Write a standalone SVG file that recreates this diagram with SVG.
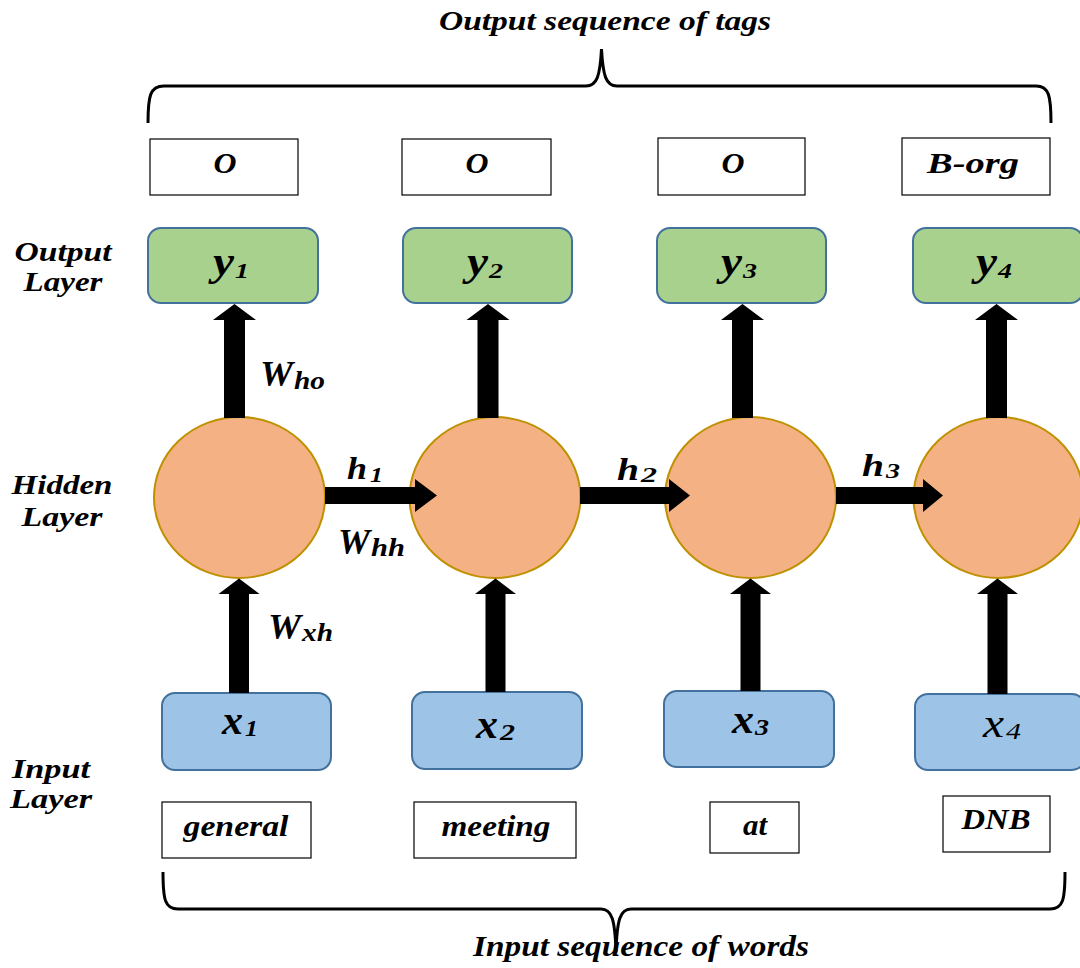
<svg xmlns="http://www.w3.org/2000/svg" width="1080" height="968" viewBox="0 0 1080 968">
  <style>
    .t { font-family: "Liberation Serif", "Times New Roman", serif; font-weight: bold; font-style: italic; fill: #000; }
    .tag { fill: #fff; stroke: #000; stroke-width: 1.2; }
    .out { fill: #A9D18E; stroke: #41719C; stroke-width: 2; }
    .inp { fill: #9DC3E6; stroke: #41719C; stroke-width: 2; }
    .cell { fill: #F4B183; stroke: #BF9000; stroke-width: 2; }
    .brace { fill: none; stroke: #000; stroke-width: 3; }
    .arr { fill: #000; }
  </style>

  <!-- titles and braces -->
  <g id="top-brace">
    <text class="t" x="605" y="30" font-size="27" text-anchor="middle" textLength="332" lengthAdjust="spacingAndGlyphs">Output sequence of tags</text>
    <path class="brace" d="M148,123 C148,96 150,86 164,86 L586,86 C597,86 600,76 601.5,49 C603,76 606,86 617,86 L1036,86 C1049,86 1051,96 1051,123"/>
  </g>
  <g id="bottom-brace">
    <path class="brace" d="M163,872 C163,900 165,909 178,909 L601,909 C612,909 615,920 616,952 C617,920 620,909 631,909 L1050,909 C1063,909 1065,900 1065,872"/>
    <text class="t" x="641" y="956" font-size="29" text-anchor="middle" textLength="336" lengthAdjust="spacingAndGlyphs">Input sequence of words</text>
  </g>

  <!-- layer labels -->
  <g id="label-output-layer">
    <text class="t" x="63" y="261" font-size="27" text-anchor="middle" textLength="97" lengthAdjust="spacingAndGlyphs">Output</text>
    <text class="t" x="63" y="291" font-size="27" text-anchor="middle" textLength="79" lengthAdjust="spacingAndGlyphs">Layer</text>
  </g>
  <g id="label-hidden-layer">
    <text class="t" x="62" y="494" font-size="27" text-anchor="middle" textLength="101" lengthAdjust="spacingAndGlyphs">Hidden</text>
    <text class="t" x="62" y="526" font-size="27" text-anchor="middle" textLength="81" lengthAdjust="spacingAndGlyphs">Layer</text>
  </g>
  <g id="label-input-layer">
    <text class="t" x="51" y="778" font-size="27" text-anchor="middle" textLength="78" lengthAdjust="spacingAndGlyphs">Input</text>
    <text class="t" x="51" y="808" font-size="27" text-anchor="middle" textLength="82" lengthAdjust="spacingAndGlyphs">Layer</text>
  </g>

  <!-- output tags -->
  <g id="tag-1">
    <rect class="tag" x="150" y="139" width="148" height="56"/>
    <text class="t" x="225" y="173" font-size="29" text-anchor="middle" textLength="23" lengthAdjust="spacingAndGlyphs">O</text>
  </g>
  <g id="tag-2">
    <rect class="tag" x="402" y="139" width="149" height="56"/>
    <text class="t" x="477" y="173" font-size="29" text-anchor="middle" textLength="23" lengthAdjust="spacingAndGlyphs">O</text>
  </g>
  <g id="tag-3">
    <rect class="tag" x="658" y="138" width="147" height="57"/>
    <text class="t" x="733" y="173" font-size="29" text-anchor="middle" textLength="23" lengthAdjust="spacingAndGlyphs">O</text>
  </g>
  <g id="tag-4">
    <rect class="tag" x="902" y="138" width="148" height="57"/>
    <text class="t" x="973" y="173" font-size="29" text-anchor="middle" textLength="92" lengthAdjust="spacingAndGlyphs">B-org</text>
  </g>

  <!-- output layer -->
  <g id="y1">
    <rect class="out" x="148" y="228" width="170" height="75" rx="13"/>
    <text class="t" x="213" y="275" font-size="42" textLength="21" lengthAdjust="spacingAndGlyphs">y</text>
    <text class="t" x="235" y="278" font-size="21" textLength="14" lengthAdjust="spacingAndGlyphs">1</text>
  </g>
  <g id="y2">
    <rect class="out" x="403" y="228" width="169" height="75" rx="13"/>
    <text class="t" x="467" y="275" font-size="42" textLength="21" lengthAdjust="spacingAndGlyphs">y</text>
    <text class="t" x="489" y="278" font-size="21" textLength="14" lengthAdjust="spacingAndGlyphs">2</text>
  </g>
  <g id="y3">
    <rect class="out" x="657" y="228" width="169" height="75" rx="13"/>
    <text class="t" x="721" y="275" font-size="42" textLength="21" lengthAdjust="spacingAndGlyphs">y</text>
    <text class="t" x="743" y="278" font-size="21" textLength="14" lengthAdjust="spacingAndGlyphs">3</text>
  </g>
  <g id="y4">
    <rect class="out" x="913" y="228" width="170" height="75" rx="13"/>
    <text class="t" x="976" y="275" font-size="42" textLength="21" lengthAdjust="spacingAndGlyphs">y</text>
    <text class="t" x="998" y="278" font-size="21" textLength="14" lengthAdjust="spacingAndGlyphs">4</text>
  </g>

  <!-- hidden layer -->
  <g id="h-cell-1"><ellipse class="cell" cx="239.5" cy="497.5" rx="85.5" ry="80.5"/></g>
  <g id="h-cell-2"><ellipse class="cell" cx="495" cy="497.5" rx="85.5" ry="80.5"/></g>
  <g id="h-cell-3"><ellipse class="cell" cx="750.5" cy="497.5" rx="85.5" ry="80.5"/></g>
  <g id="h-cell-4"><ellipse class="cell" cx="998.5" cy="497.5" rx="85" ry="80.5"/></g>

  <!-- input layer -->
  <g id="x1">
    <rect class="inp" x="162" y="693" width="169" height="77" rx="13"/>
    <text class="t" x="222" y="734" font-size="42" textLength="21" lengthAdjust="spacingAndGlyphs">x</text>
    <text class="t" x="245" y="736" font-size="23" textLength="13" lengthAdjust="spacingAndGlyphs">1</text>
  </g>
  <g id="x2">
    <rect class="inp" x="412" y="692" width="170" height="77" rx="13"/>
    <text class="t" x="476" y="738" font-size="42" textLength="22" lengthAdjust="spacingAndGlyphs">x</text>
    <text class="t" x="500" y="740" font-size="23" textLength="15" lengthAdjust="spacingAndGlyphs">2</text>
  </g>
  <g id="x3">
    <rect class="inp" x="664" y="691" width="170" height="76" rx="13"/>
    <text class="t" x="732" y="733" font-size="42" textLength="22" lengthAdjust="spacingAndGlyphs">x</text>
    <text class="t" x="755" y="735" font-size="23" textLength="14" lengthAdjust="spacingAndGlyphs">3</text>
  </g>
  <g id="x4">
    <rect class="inp" x="915" y="694" width="170" height="76" rx="13"/>
    <text x="983" y="737" font-family="Liberation Serif, serif" font-style="italic" font-size="42" textLength="21" lengthAdjust="spacingAndGlyphs">x</text>
    <text x="1006" y="739" font-family="Liberation Serif, serif" font-style="italic" font-size="23" textLength="15" lengthAdjust="spacingAndGlyphs">4</text>
  </g>

  <!-- input words -->
  <g id="word-1">
    <rect class="tag" x="162" y="802" width="149" height="56"/>
    <text class="t" x="236" y="836" font-size="29" text-anchor="middle" textLength="105" lengthAdjust="spacingAndGlyphs">general</text>
  </g>
  <g id="word-2">
    <rect class="tag" x="414" y="802" width="162" height="56"/>
    <text class="t" x="496" y="836" font-size="29" text-anchor="middle" textLength="109" lengthAdjust="spacingAndGlyphs">meeting</text>
  </g>
  <g id="word-3">
    <rect class="tag" x="710" y="802" width="89" height="51"/>
    <text class="t" x="755" y="835" font-size="29" text-anchor="middle" textLength="24" lengthAdjust="spacingAndGlyphs">at</text>
  </g>
  <g id="word-4">
    <rect class="tag" x="943" y="796" width="107" height="56"/>
    <text class="t" x="996" y="829" font-size="29" text-anchor="middle" textLength="69" lengthAdjust="spacingAndGlyphs">DNB</text>
  </g>

  <!-- block arrows -->
  <g id="connectors">
    <!-- hidden to output -->
    <polygon class="arr" points="224,418 224,320 213,320 234.5,304 256,320 245,320 245,418"/>
    <polygon class="arr" points="477.5,418 477.5,320 466.5,320 488,304 509.5,320 498.5,320 498.5,418"/>
    <polygon class="arr" points="732,418 732,320 721,320 742.5,304 764,320 753,320 753,418"/>
    <polygon class="arr" points="986,418 986,320 975,320 996.5,304 1018,320 1007,320 1007,418"/>
    <!-- input to hidden -->
    <polygon class="arr" points="229,693 229,594 218.5,594 239,578.5 259.5,594 249,594 249,693"/>
    <polygon class="arr" points="485.5,692 485.5,594 475,594 495.5,578.5 516,594 505.5,594 505.5,692"/>
    <polygon class="arr" points="740.5,691 740.5,594 730,594 750.5,578.5 771,594 760.5,594 760.5,691"/>
    <polygon class="arr" points="987.5,694 987.5,594 977,594 997.5,578.5 1018,594 1007.5,594 1007.5,694"/>
    <!-- hidden to hidden -->
    <polygon class="arr" points="325,487 415,487 415,479 437,495.5 415,512 415,504 325,504"/>
    <polygon class="arr" points="580,487 669,487 669,479 690,495.5 669,512 669,504 580,504"/>
    <polygon class="arr" points="836,487 923,487 923,479 943,495.5 923,512 923,504 836,504"/>
  </g>

  <!-- weight and state labels -->
  <g id="weight-labels">
    <text class="t" x="260" y="386" font-size="35" textLength="33" lengthAdjust="spacingAndGlyphs">W</text>
    <text class="t" x="294" y="389" font-size="25" textLength="31" lengthAdjust="spacingAndGlyphs">ho</text>
    <text class="t" x="338" y="554" font-size="35" textLength="32" lengthAdjust="spacingAndGlyphs">W</text>
    <text class="t" x="371" y="556" font-size="25" textLength="34" lengthAdjust="spacingAndGlyphs">hh</text>
    <text class="t" x="268" y="639" font-size="35" textLength="33" lengthAdjust="spacingAndGlyphs">W</text>
    <text class="t" x="302" y="641" font-size="25" textLength="31" lengthAdjust="spacingAndGlyphs">xh</text>
    <text class="t" x="347" y="479" font-size="32" textLength="20" lengthAdjust="spacingAndGlyphs">h</text>
    <text class="t" x="370" y="482" font-size="22" textLength="13" lengthAdjust="spacingAndGlyphs">1</text>
    <text class="t" x="617" y="480" font-size="32" textLength="22" lengthAdjust="spacingAndGlyphs">h</text>
    <text class="t" x="641" y="482" font-size="22" textLength="16" lengthAdjust="spacingAndGlyphs">2</text>
    <text class="t" x="862" y="476" font-size="32" textLength="22" lengthAdjust="spacingAndGlyphs">h</text>
    <text class="t" x="886" y="478" font-size="22" textLength="14" lengthAdjust="spacingAndGlyphs">3</text>
  </g>
</svg>
